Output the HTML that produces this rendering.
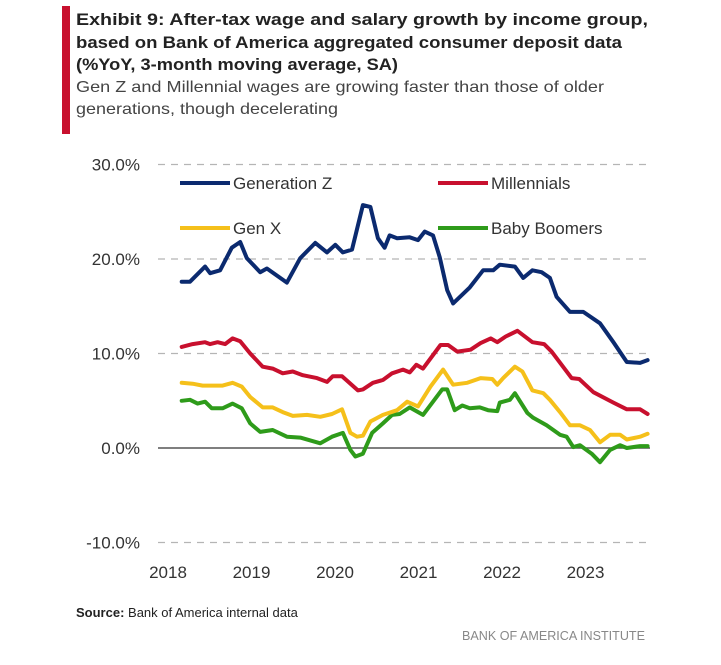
<!DOCTYPE html>
<html><head><meta charset="utf-8"><style>
html,body{margin:0;padding:0;background:#fff;}
svg{display:block;font-family:"Liberation Sans",sans-serif;}
</style></head><body>
<svg id="chart" width="721" height="665" viewBox="0 0 721 665">
<rect x="0" y="0" width="721" height="665" fill="#fff"/>
<rect x="62" y="6" width="8" height="128" fill="#c8102e"/>
<g font-weight="bold" font-size="17" fill="#222">
<text x="76" y="25" textLength="572" lengthAdjust="spacingAndGlyphs">Exhibit 9: After-tax wage and salary growth by income group,</text>
<text x="76" y="48" textLength="546" lengthAdjust="spacingAndGlyphs">based on Bank of America aggregated consumer deposit data</text>
<text x="76" y="70" textLength="322" lengthAdjust="spacingAndGlyphs">(%YoY, 3-month moving average, SA)</text>
</g>
<g font-size="16" fill="#444">
<text x="76" y="92" textLength="528" lengthAdjust="spacingAndGlyphs">Gen Z and Millennial wages are growing faster than those of older</text>
<text x="76" y="114" textLength="262" lengthAdjust="spacingAndGlyphs">generations, though decelerating</text>
</g>
<g id="grid"></g>
<g id="yaxis"></g>
<g id="xaxis"></g>
<g id="series"></g>
<g font-size="17" fill="#333">
<line x1="180" y1="183" x2="230" y2="183" stroke="#0b2a6f" stroke-width="4"/>
<text x="233" y="189">Generation Z</text>
<line x1="180" y1="228" x2="230" y2="228" stroke="#f5c01a" stroke-width="4"/>
<text x="233" y="234">Gen X</text>
<line x1="438" y1="183" x2="488" y2="183" stroke="#c8102e" stroke-width="4"/>
<text x="491" y="189">Millennials</text>
<line x1="438" y1="228" x2="488" y2="228" stroke="#2e9b1a" stroke-width="4"/>
<text x="491" y="234">Baby Boomers</text>
</g>
<text x="76" y="617" font-size="13" fill="#222"><tspan font-weight="bold">Source:</tspan> Bank of America internal data</text>
<text x="462" y="640" font-size="13" fill="#888" textLength="183" lengthAdjust="spacingAndGlyphs">BANK OF AMERICA INSTITUTE</text>
</svg>
<script>
const yTicks = [30, 20, 10, 0, -10];
const yTickLabels = ["30.0%", "20.0%", "10.0%", "0.0%", "-10.0%"];
const xTicks = [2018, 2019, 2020, 2021, 2022, 2023];
const xTickLabels = ["2018", "2019", "2020", "2021", "2022", "2023"];

const genzDates = [2018.20,2018.30,2018.48,2018.54,2018.66,2018.80,2018.90,2018.98,2019.14,2019.22,2019.46,2019.62,2019.80,2019.94,2020.04,2020.13,2020.24,2020.37,2020.46,2020.55,2020.63,2020.69,2020.78,2020.93,2021.03,2021.11,2021.21,2021.29,2021.38,2021.45,2021.65,2021.81,2021.93,2022.01,2022.19,2022.29,2022.40,2022.51,2022.61,2022.69,2022.85,2023.01,2023.21,2023.37,2023.53,2023.69,2023.78];
const genzValues = [17.6,17.6,19.2,18.5,18.8,21.2,21.8,20.1,18.6,19.0,17.5,20.1,21.7,20.7,21.5,20.7,21.0,25.7,25.5,22.2,21.2,22.5,22.2,22.3,22.0,22.9,22.5,20.2,16.7,15.3,17.0,18.8,18.8,19.4,19.2,18.0,18.8,18.6,18.0,16.0,14.4,14.4,13.2,11.2,9.1,9.0,9.3];

const millDates = [2018.20,2018.33,2018.48,2018.54,2018.63,2018.72,2018.81,2018.90,2019.02,2019.17,2019.29,2019.41,2019.53,2019.65,2019.82,2019.94,2020.01,2020.12,2020.31,2020.37,2020.49,2020.61,2020.72,2020.85,2020.93,2021.01,2021.09,2021.30,2021.39,2021.50,2021.66,2021.78,2021.90,2021.98,2022.08,2022.22,2022.40,2022.54,2022.63,2022.75,2022.87,2022.96,2023.13,2023.37,2023.53,2023.69,2023.78];
const millValues = [10.7,11.0,11.2,11.0,11.2,11.0,11.6,11.3,10.0,8.6,8.4,7.9,8.1,7.7,7.4,7.0,7.6,7.6,6.1,6.2,6.9,7.2,7.9,8.3,8.0,8.8,8.4,10.9,10.9,10.2,10.4,11.1,11.6,11.2,11.8,12.4,11.2,11.0,10.2,8.8,7.4,7.3,5.9,4.8,4.1,4.1,3.6];

const genxDates = [2018.20,2018.33,2018.45,2018.69,2018.81,2018.92,2019.02,2019.17,2019.29,2019.41,2019.53,2019.70,2019.86,2020.00,2020.12,2020.22,2020.30,2020.37,2020.46,2020.61,2020.78,2020.90,2021.03,2021.18,2021.33,2021.45,2021.62,2021.78,2021.92,2021.98,2022.05,2022.19,2022.28,2022.40,2022.53,2022.61,2022.73,2022.85,2022.97,2023.09,2023.21,2023.33,2023.45,2023.53,2023.69,2023.78];
const genxValues = [6.9,6.8,6.6,6.6,6.9,6.5,5.4,4.3,4.3,3.8,3.4,3.5,3.3,3.6,4.1,1.6,1.2,1.3,2.8,3.5,4.0,4.9,4.4,6.5,8.3,6.7,6.9,7.4,7.3,6.7,7.4,8.6,8.1,6.1,5.8,5.1,3.8,2.4,2.4,1.9,0.6,1.4,1.4,0.9,1.2,1.5];

const boomDates = [2018.20,2018.30,2018.39,2018.48,2018.56,2018.69,2018.81,2018.92,2019.02,2019.14,2019.29,2019.46,2019.62,2019.86,2020.00,2020.13,2020.22,2020.28,2020.37,2020.48,2020.61,2020.72,2020.81,2020.93,2021.09,2021.21,2021.32,2021.38,2021.47,2021.56,2021.65,2021.77,2021.87,2021.98,2022.01,2022.13,2022.19,2022.34,2022.41,2022.57,2022.73,2022.81,2022.89,2022.97,2023.11,2023.21,2023.33,2023.45,2023.53,2023.69,2023.78];
const boomValues = [5.0,5.1,4.7,4.9,4.2,4.2,4.7,4.2,2.6,1.7,1.9,1.2,1.1,0.5,1.2,1.6,-0.2,-0.9,-0.6,1.6,2.6,3.5,3.6,4.3,3.5,4.9,6.2,6.2,4.0,4.5,4.2,4.3,4.0,3.9,4.8,5.1,5.8,3.7,3.2,2.4,1.4,1.2,0.1,0.3,-0.6,-1.5,-0.2,0.3,0.0,0.2,0.2];

const NS = "http://www.w3.org/2000/svg";
function yScale(v){ return 448 - v * 9.45; }
function xScale(t){ return 165 + (t - 2018) * 83.5; }
function mk(tag, attrs, parent){
  const el = document.createElementNS(NS, tag);
  for (const k in attrs) el.setAttribute(k, attrs[k]);
  parent.appendChild(el);
  return el;
}
const grid = document.getElementById('grid');
const yaxis = document.getElementById('yaxis');
const xaxis = document.getElementById('xaxis');
const series = document.getElementById('series');

yTicks.forEach((v, i) => {
  const y = yScale(v);
  if (v !== 0) {
    const g = mk('line', {x1:158, x2:650, y1:y, y2:y, stroke:'#b5b5b5', 'stroke-width':1.3, 'stroke-dasharray':'7 6'}, grid);
    
    
  }
  const t = mk('text', {x:140, y:y + 6, 'text-anchor':'end', 'font-size':17, fill:'#333'}, yaxis);
  t.textContent = yTickLabels[i];
  
  
});
const zl = mk('line', {x1:158, x2:650, y1:yScale(0), y2:yScale(0), stroke:'#555', 'stroke-width':1.6}, grid);



xTicks.forEach((t, i) => {
  const el = mk('text', {x:xScale(t) + 3, y:578, 'text-anchor':'middle', 'font-size':17, fill:'#333'}, xaxis);
  el.textContent = xTickLabels[i];
  
  
});

function drawLine(dates, vals, color, name){
  const d = dates.map((t, i) => (i ? 'L' : 'M') + xScale(t).toFixed(1) + ' ' + yScale(vals[i]).toFixed(1)).join(' ');
  const p = mk('path', {d:d, fill:'none', stroke:color, 'stroke-width':4, 'stroke-linejoin':'round', 'stroke-linecap':'round'}, series);
  
  
}
drawLine(boomDates, boomValues, '#2e9b1a', 'line-baby-boomers');
drawLine(genxDates, genxValues, '#f5c01a', 'line-gen-x');
drawLine(millDates, millValues, '#c8102e', 'line-millennials');
drawLine(genzDates, genzValues, '#0b2a6f', 'line-generation-z');
</script>
</body></html>
